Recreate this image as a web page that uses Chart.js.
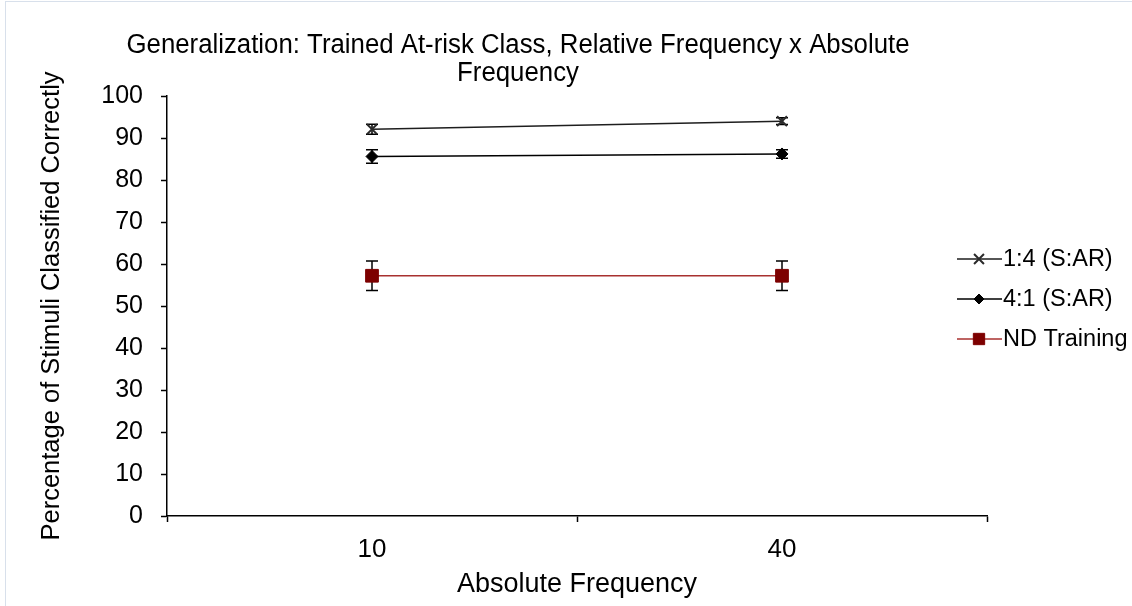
<!DOCTYPE html>
<html>
<head>
<meta charset="utf-8">
<script src="https://cdn.jsdelivr.net/npm/chart.js@4/dist/chart.umd.min.js"></script>
<style>
  html, body { margin: 0; padding: 0; background: #ffffff; }
  #wrap { position: relative; width: 1132px; height: 606px; }
  #frameTop { position: absolute; left: 5px; top: 1px; width: 1127px; height: 0; border-top: 1.5px solid #d8e0eb; }
  #frameLeft { position: absolute; left: 5px; top: 1px; width: 0; height: 605px; border-left: 1.5px solid #d8e0eb; }
  canvas { position: absolute; left: 0; top: 0; }
</style>
</head>
<body>
<div id="wrap">
  <canvas id="chart" width="1132" height="606"></canvas>
  <div id="frameTop"></div>
  <div id="frameLeft"></div>
</div>
<script>
// Absolute frequency conditions on the x axis
const categories = ['10', '40'];

// Percentage correct per training condition
const ratio14 = [92.1, 94.0];
const ratio41 = [85.6, 86.2];
const ndTraining = [57.2, 57.2];

// Error bar half-lengths for each condition
const ratio14Err = [1.2, 0.8];
const ratio41Err = [1.6, 1.0];
const ndTrainingErr = [3.5, 3.5];

const seriesNames = ['1:4 (S:AR)', '4:1 (S:AR)', 'ND Training'];
const titleLines = ['Generalization: Trained At-risk Class, Relative Frequency x Absolute', 'Frequency'];
const yTicks = [0, 10, 20, 30, 40, 50, 60, 70, 80, 90, 100];

const FONT = "'Liberation Sans', Arial, sans-serif";
const errors = [ratio14Err, ratio41Err, ndTrainingErr];

// Vertical error bars with caps, drawn beneath the markers
const errorBars = {
  id: 'errorBars',
  beforeDatasetsDraw(chart) {
    const ctx = chart.ctx;
    const y = chart.scales.y;
    ctx.save();
    ctx.strokeStyle = '#000';
    ctx.lineWidth = 1.5;
    chart.data.datasets.forEach((ds, i) => {
      const meta = chart.getDatasetMeta(i);
      meta.data.forEach((pt, j) => {
        const v = ds.data[j], e = errors[i][j];
        const top = y.getPixelForValue(v + e);
        const bot = y.getPixelForValue(v - e);
        ctx.beginPath();
        ctx.moveTo(pt.x, top); ctx.lineTo(pt.x, bot);
        ctx.moveTo(pt.x - 6, top); ctx.lineTo(pt.x + 6, top);
        ctx.moveTo(pt.x - 6, bot); ctx.lineTo(pt.x + 6, bot);
        ctx.stroke();
      });
    });
    ctx.restore();
  }
};

// Two-line heading in a narrow cut of the sans face
const heading = {
  id: 'heading',
  afterDraw(chart) {
    const ctx = chart.ctx;
    ctx.save();
    ctx.fillStyle = '#000';
    ctx.font = '27px ' + FONT;
    ctx.textAlign = 'center';
    ctx.textBaseline = 'alphabetic';
    const w0 = ctx.measureText(titleLines[0]).width;
    const sx = 783 / w0;
    const cx = 518;
    const baselines = [53, 81];
    titleLines.forEach((t, k) => {
      ctx.save();
      ctx.translate(cx, baselines[k]);
      ctx.scale(sx, 1);
      ctx.fillText(t, 0, 0);
      ctx.restore();
    });
    ctx.restore();
  }
};

// Legend on the right: short line with the series marker, then the name
const sideLegend = {
  id: 'sideLegend',
  afterDraw(chart) {
    const ctx = chart.ctx;
    const rows = [259, 299, 339];
    chart.data.datasets.forEach((ds, i) => {
      const yy = rows[i];
      ctx.save();
      ctx.strokeStyle = ds.borderColor;
      ctx.lineWidth = 1.5;
      ctx.beginPath();
      ctx.moveTo(957, yy); ctx.lineTo(1002, yy);
      ctx.stroke();
      ctx.fillStyle = ds.pointBackgroundColor;
      ctx.strokeStyle = ds.pointBorderColor;
      ctx.lineWidth = ds.pointBorderWidth;
      Chart.helpers.drawPoint(ctx, {
        pointStyle: ds.pointStyle,
        radius: ds.legendRadius,
        borderWidth: ds.pointBorderWidth,
        rotation: 0
      }, 979, yy);
      ctx.fillStyle = '#000';
      ctx.font = '23.5px ' + FONT;
      ctx.textAlign = 'left';
      ctx.textBaseline = 'middle';
      ctx.fillText(ds.label, 1003, yy + 1);
      ctx.restore();
    });
  }
};

const datasets = [
  {
    label: seriesNames[0], data: ratio14,
    borderColor: '#1e1e1e', borderWidth: 1.6,
    pointStyle: 'crossRot', pointRadius: 7, legendRadius: 7,
    pointBorderColor: '#2a2a2a', pointBackgroundColor: '#2a2a2a', pointBorderWidth: 2
  },
  {
    label: seriesNames[1], data: ratio41,
    borderColor: '#000000', borderWidth: 1.6,
    pointStyle: 'rectRot', pointRadius: 6, legendRadius: 5,
    pointBorderColor: '#000000', pointBackgroundColor: '#000000', pointBorderWidth: 1
  },
  {
    label: seriesNames[2], data: ndTraining,
    borderColor: '#a8312f', borderWidth: 1.6,
    pointStyle: 'rect', pointRadius: 9, legendRadius: 8,
    pointBorderColor: '#7d0000', pointBackgroundColor: '#7d0000', pointBorderWidth: 1
  }
];

new Chart(document.getElementById('chart'), {
  type: 'line',
  data: { labels: categories, datasets },
  options: {
    responsive: false,
    animation: false,
    layout: { padding: { left: 0, top: 96, right: 145, bottom: 0 } },
    plugins: {
      legend: { display: false },
      title: { display: false },
      tooltip: { enabled: false }
    },
    elements: { line: { tension: 0 } },
    scales: {
      x: {
        type: 'category',
        offset: true,
        afterFit(scale) { scale.height = 90; },
        grid: {
          offset: true, drawOnChartArea: false, drawTicks: true,
          tickLength: 6, tickColor: '#000', tickWidth: 1.5
        },
        border: { display: true, color: '#000', width: 1.5 },
        ticks: { color: '#000', font: { family: FONT, size: 26 }, padding: 12 },
        title: {
          display: true, text: 'Absolute Frequency', color: '#000',
          font: { family: FONT, size: 27 }, padding: { top: 0, bottom: 5 }
        }
      },
      y: {
        min: 0, max: 100,
        afterFit(scale) { scale.width = 167; },
        afterBuildTicks(scale) { scale.ticks = yTicks.map(v => ({ value: v })); },
        grid: {
          drawOnChartArea: false, drawTicks: true,
          tickLength: 6, tickColor: '#000', tickWidth: 1.5
        },
        border: { display: true, color: '#000', width: 1.5 },
        ticks: { color: '#000', font: { family: FONT, size: 25 }, padding: 18 },
        title: {
          display: true, text: 'Percentage of Stimuli Classified Correctly', color: '#000',
          font: { family: FONT, size: 25.5 }, padding: { top: 37, bottom: 0 }
        }
      }
    }
  },
  plugins: [errorBars, heading, sideLegend]
});
</script>
</body>
</html>
